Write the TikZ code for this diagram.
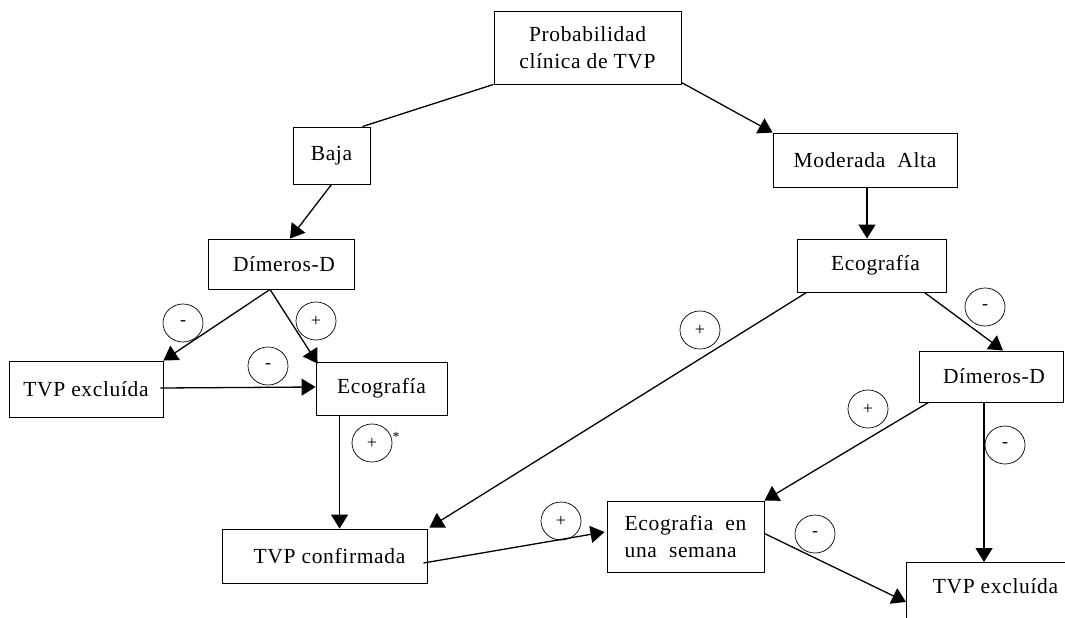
\documentclass[tikz,border=0pt]{standalone}
\usepackage{fontspec}
\setmainfont[LetterSpace=3]{Liberation Serif}
\usetikzlibrary{arrows.meta,calc,shapes.geometric}
\begin{document}
\begin{tikzpicture}[x=1pt,y=-1pt,
  box/.style={draw,line width=0.9pt,inner sep=0pt,font=\fontsize{21.5}{27}\selectfont,align=center},
  conn/.style={line width=1.3pt},
  arr/.style={conn,-{Triangle[length=14pt,width=17pt]}},
  sgn/.style={draw,ellipse,line width=0.7pt,minimum width=40pt,minimum height=38pt,inner sep=0pt,font=\fontsize{18}{18}\selectfont}]
\useasboundingbox (0,0) rectangle (1065,618);
\clip (0,0) rectangle (1065,618);
% boxes
\node[box,minimum width=187pt,minimum height=73pt] (top) at (587.5,47.5) {Probabilidad\\clínica de TVP};
\node[box,minimum width=77pt,minimum height=57pt] (baja) at (331.5,155.5) {Baja};
\node[box,minimum width=184pt,minimum height=54pt] (mod) at (865,160) {Moderada\ \ Alta};
\node[box,minimum width=146pt,minimum height=50pt] (dimL) at (281,264) {\hspace{6pt}Dímeros-D};
\node[box,minimum width=131pt,minimum height=53pt] (ecoL) at (381.5,388.5) {Ecografía};
\node[box,minimum width=154pt,minimum height=56pt] (exL) at (86,389) {TVP excluída};
\node[box,minimum width=205pt,minimum height=54pt] (conf) at (324.5,556) {\hspace{10pt}TVP confirmada};
\node[box,minimum width=149pt,minimum height=53pt] (ecoR) at (871.5,265.5) {\hspace{8pt}Ecografía};
\node[box,minimum width=144pt,minimum height=51pt] (dimR) at (991,376.5) {\hspace{6pt}Dímeros-D};
\node[box,minimum width=157pt,minimum height=71pt,align=left] (sem) at (685.5,536.5) {Ecografia\ \ en\\una\ \ semana\hspace{8pt}};
\node[box,anchor=north west,minimum width=178pt,text height=15pt,text depth=30pt,inner ysep=16pt] (exR) at (906,562) {TVP excluída};
% connectors
\draw[conn] (top.south west) -- ($(baja.north east)+(-8,0)$);
\draw[arr] ($(top.south east)+(0,-2)$) -- (mod.north west);
\draw[arr] (baja.south) -- ($(dimL.north)+(9,0)$);
\draw[arr] ($(mod.south)+(2,0)$) -- ($(ecoR.north)+(-4.5,0)$);
\draw[arr] ($(dimL.south)+(-11,0)$) -- (exL.north east);
\draw[arr] ($(dimL.south)+(-11,0)$) -- ($(ecoL.north west)+(2,2)$);
\draw[arr] ($(exL.east)+(-3,-1)$) -- ($(ecoL.west)+(0,-1.5)$);
\draw[arr] ($(ecoL.south west)+(24,0)$) -- ($(conf.north west)+(118,0)$);
\draw[arr] ($(ecoR.south west)+(10,0)$) -- ($(conf.north east)+(2,-1)$);
\draw[arr] ($(conf.east)+(-4,7)$) -- ($(sem.west)+(-2,-4.5)$);
\draw[arr] ($(ecoR.south east)+(-22,0)$) -- ($(dimR.north)+(12,0)$);
\draw[arr] ($(dimR.south)+(-7,0)$) -- ($(exR.north west)+(78,0)$);
\draw[arr] ($(dimR.south west)+(10,0)$) -- (sem.north east);
\draw[arr] ($(sem.east)+(0,-3)$) -- ($(exR.north west)+(0,40)$);
% sign circles
\node[sgn] (c1) at (183,323) {-};
\node[sgn] (c2) at (316,321) {+};
\node[sgn] (c3) at (268,366) {-};
\node[sgn] (c4) at (372,443) {+};
\node[font=\fontsize{14}{14}\selectfont,inner sep=0pt] (ast) at (396,437) {*};
\node[sgn] (c5) at (700,330) {+};
\node[sgn] (c6) at (985,307) {-};
\node[sgn] (c7) at (868,409) {+};
\node[sgn] (c8) at (1005,445) {-};
\node[sgn] (c9) at (561,521) {+};
\node[sgn] (c10) at (815,534) {-};
\end{tikzpicture}
\end{document}
